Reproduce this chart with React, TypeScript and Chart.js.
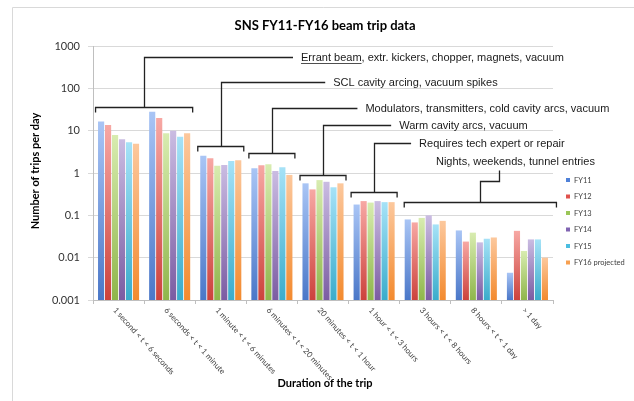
import React, { useEffect, useRef } from "react";
import { Chart, registerables } from "chart.js";

Chart.register(...registerables);

const categories = [
  "1 second < t < 6 seconds",
  "6 seconds < t < 1 minute",
  "1 minute < t < 6 minutes",
  "6 minutes < t < 20 minutes",
  "20 minutes < t < 1 hour",
  "1 hour < t < 3 hours",
  "3 hours < t < 8 hours",
  "8 hours < t < 1 day",
  "> 1 day",
];

const seriesNames = ["FY11", "FY12", "FY13", "FY14", "FY15", "FY16 projected"];

const fy11 = [16.4, 27.9, 2.57, 1.29, 0.57, 0.18, 0.08, 0.044, 0.0044];
const fy12 = [13.7, 20, 2.23, 1.52, 0.41, 0.217, 0.068, 0.024, 0.043];
const fy13 = [7.9, 8.7, 1.49, 1.6, 0.68, 0.2, 0.087, 0.039, 0.0144];
const fy14 = [6.3, 9.9, 1.55, 1.11, 0.62, 0.217, 0.1, 0.023, 0.027];
const fy15 = [5.3, 7.2, 1.92, 1.36, 0.46, 0.205, 0.061, 0.028, 0.027];
const fy16 = [4.9, 8.7, 2.0, 0.9, 0.57, 0.205, 0.074, 0.03, 0.01];

const yTicks = [0.001, 0.01, 0.1, 1, 10, 100, 1000];
const yTickLabels = ["0.001", "0.01", "0.1", "1", "10", "100", "1000"];

const colorsTop = ["#a9c5f5", "#f7a8a4", "#d8ecb0", "#cabce2", "#a6e2f7", "#fcc89d"];
const colorsBottom = ["#4a77c8", "#cc423c", "#8fb64b", "#7b5ca2", "#3aaccb", "#f38a2e"];
const legendColors = ["#4f81d8", "#e0524d", "#9bc658", "#8064b2", "#4bbde0", "#f7a050"];

// Annotation callouts (category index span, bracket level and text level in data units)
const annotations = [
  { under: "Errant beam", text: ", extr. kickers, chopper, magnets, vacuum", first: 0, last: 1, bracket: 36, level: 550, textAt: 3.57 },
  { under: "", text: "SCL cavity arcing, vacuum spikes", first: 2, last: 2, bracket: 4.3, level: 141, textAt: 4.2 },
  { under: "", text: "Modulators, transmitters, cold cavity arcs, vacuum", first: 3, last: 3, bracket: 2.97, level: 34.3, textAt: 4.83 },
  { under: "", text: "Warm cavity arcs, vacuum", first: 4, last: 4, bracket: 0.9, level: 13.6, textAt: 5.49 },
  { under: "", text: "Requires tech expert or repair", first: 5, last: 5, bracket: 0.361, level: 5.1, textAt: 5.88 },
];
const lastAnnotation = { text: "Nights, weekends, tunnel entries", first: 6, last: 8, bracket: 0.21, elbow: 0.647, elbowTop: 1.18, elbowAt: 7.45, level: 1.82, textAt: 6.21 };

const datasetValues = [fy11, fy12, fy13, fy14, fy15, fy16];

const overlayPlugin = {
  id: "overlay",
  afterDraw(chart: any) {
    const ctx = chart.ctx;
    const xs = chart.scales.x;
    const ys = chart.scales.y;
    const ca = chart.chartArea;
    const W = chart.width;
    const H = chart.height;
    const catW = xs.getPixelForValue(1) - xs.getPixelForValue(0);
    const xAt = (k: number) => xs.getPixelForValue(0) + k * catW;
    ctx.save();

    // frame
    ctx.strokeStyle = "#d9d9d9";
    ctx.lineWidth = 1;
    ctx.beginPath();
    ctx.moveTo(12.5, H);
    ctx.lineTo(12.5, 7.5);
    ctx.lineTo(W, 7.5);
    ctx.stroke();

    // title
    ctx.fillStyle = "#000";
    ctx.font = "bold 13px Lato";
    ctx.textAlign = "center";
    ctx.textBaseline = "middle";
    ctx.fillText("SNS FY11-FY16 beam trip data", 325, 26);

    // y title
    ctx.save();
    ctx.translate(35, (ca.top + ca.bottom) / 2 - 2);
    ctx.rotate(-Math.PI / 2);
    ctx.font = "bold 11px Lato";
    ctx.fillText("Number of trips per day", 0, 0);
    ctx.restore();

    // x title
    ctx.font = "bold 11px Lato";
    ctx.fillText("Duration of the trip", 325, 383);

    // x labels
    ctx.font = "8px Lato";
    ctx.fillStyle = "#404040";
    ctx.textAlign = "left";
    ctx.textBaseline = "top";
    categories.forEach((c, i) => {
      ctx.save();
      ctx.translate(xs.getPixelForValue(i) - 1, ca.bottom + 6);
      ctx.rotate((48 * Math.PI) / 180);
      ctx.fillText(c, 0, 0);
      ctx.restore();
    });

    // legend
    ctx.font = "7.5px Lato";
    ctx.textBaseline = "middle";
    seriesNames.forEach((n, i) => {
      const y = 180 + i * 16.5;
      ctx.fillStyle = legendColors[i];
      ctx.fillRect(566, y - 2, 4, 4);
      ctx.fillStyle = "#404040";
      ctx.fillText(n, 574, y + 0.5);
    });

    // annotations
    ctx.strokeStyle = "#222";
    ctx.lineWidth = 1.3;
    ctx.fillStyle = "#1a1a1a";
    ctx.font = "11px 'Liberation Sans'";
    ctx.textBaseline = "middle";
    const half = catW * 0.45;
    const bracket = (l: number, r: number, by: number) => {
      ctx.beginPath();
      ctx.moveTo(l, by + 5);
      ctx.lineTo(l, by);
      ctx.lineTo(r, by);
      ctx.lineTo(r, by + 5);
      ctx.stroke();
    };
    annotations.forEach((a) => {
      const l = xs.getPixelForValue(a.first) - half;
      const r = xs.getPixelForValue(a.last) + half;
      const by = Math.round(ys.getPixelForValue(a.bracket)) + 0.5;
      const ty = Math.round(ys.getPixelForValue(a.level)) + 0.5;
      const mid = Math.round((l + r) / 2) + 0.5;
      const tx = xAt(a.textAt);
      bracket(l, r, by);
      ctx.beginPath();
      ctx.moveTo(mid, by);
      ctx.lineTo(mid, ty);
      ctx.lineTo(tx - 8, ty);
      ctx.stroke();
      let x = tx;
      if (a.under) {
        ctx.fillText(a.under, x, ty);
        const w = ctx.measureText(a.under).width;
        ctx.save();
        ctx.lineWidth = 0.8;
        ctx.beginPath();
        ctx.moveTo(x, ty + 6);
        ctx.lineTo(x + w, ty + 6);
        ctx.stroke();
        ctx.restore();
        x += w;
      }
      ctx.fillText(a.text, x, ty);
    });
    {
      const a = lastAnnotation;
      const l = xs.getPixelForValue(a.first) - half + 2;
      const r = xs.getPixelForValue(a.last) + half + 6;
      const by = Math.round(ys.getPixelForValue(a.bracket)) + 0.5;
      const ey = Math.round(ys.getPixelForValue(a.elbow)) + 0.5;
      const et = Math.round(ys.getPixelForValue(a.elbowTop)) + 0.5;
      const ty = ys.getPixelForValue(a.level);
      const mid = Math.round((l + r) / 2) + 0.5;
      const ex = Math.round(xAt(a.elbowAt)) + 0.5;
      bracket(l, r, by);
      ctx.beginPath();
      ctx.moveTo(mid, by);
      ctx.lineTo(mid, ey);
      ctx.lineTo(ex, ey);
      ctx.lineTo(ex, et);
      ctx.stroke();
      ctx.fillText(a.text, xAt(a.textAt), ty);
    }
    ctx.restore();
  },
};

export default function App() {
  const ref = useRef<HTMLCanvasElement>(null);
  useEffect(() => {
    if (!ref.current) return;
    const chart = new Chart(ref.current, {
      type: "bar",
      data: {
        labels: categories,
        datasets: datasetValues.map((vals, i) => ({
          label: seriesNames[i],
          data: vals,
          borderWidth: 0,
          barPercentage: 0.88,
          categoryPercentage: 0.82,
          backgroundColor: (c: any) => {
            const chart = c.chart;
            const ca = chart.chartArea;
            if (!ca || c.type !== "data") return colorsBottom[i];
            const y = chart.scales.y.getPixelForValue(c.raw);
            const g = chart.ctx.createLinearGradient(0, y, 0, ca.bottom);
            g.addColorStop(0, colorsTop[i]);
            g.addColorStop(1, colorsBottom[i]);
            return g;
          },
        })),
      },
      options: {
        responsive: false,
        animation: false,
        layout: { padding: { top: 46, right: 81, left: 0, bottom: 0 } },
        plugins: { legend: { display: false }, tooltip: { enabled: false }, title: { display: false } },
        scales: {
          x: {
            offset: true,
            grid: { offset: true, drawOnChartArea: false, drawTicks: true, tickLength: 4, color: "#bfbfbf" },
            border: { color: "#bfbfbf" },
            ticks: { display: false },
            afterFit: (s: any) => {
              s.height = 101;
            },
          },
          y: {
            type: "logarithmic",
            min: 0.001,
            max: 1000,
            grid: { color: "#d9d9d9", tickLength: 5 },
            border: { color: "#bfbfbf" },
            afterBuildTicks: (s: any) => {
              s.ticks = yTicks.map((v) => ({ value: v }));
            },
            ticks: {
              padding: 8,
              color: "#333",
              font: { family: "Lato", size: 11 },
              callback: (v: any) => {
                const idx = yTicks.indexOf(Number(v));
                return idx >= 0 ? yTickLabels[idx] : "";
              },
            },
            afterFit: (s: any) => {
              s.width = 93;
            },
          },
        },
      },
      plugins: [overlayPlugin],
    });
    return () => chart.destroy();
  }, []);
  return (
    <div style={{ position: "fixed", left: 0, top: 0, width: 634, height: 401, background: "#fff" }}>
      <canvas ref={ref} width={634} height={401} style={{ display: "block" }} />
    </div>
  );
}
